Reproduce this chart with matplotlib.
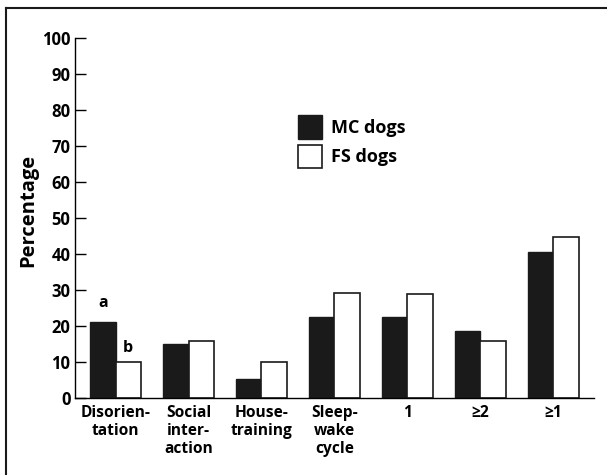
import matplotlib
matplotlib.use("Agg")
import matplotlib.pyplot as plt
import numpy as np
from matplotlib.lines import Line2D

categories = ["Disorien-\ntation", "Social\ninter-\naction", "House-\ntraining",
              "Sleep-\nwake\ncycle", "1", "≥2", "≥1"]
mc_dogs = [21.1, 15.1, 5.2, 22.5, 22.4, 18.7, 40.6]
fs_dogs = [10.0, 15.9, 10.0, 29.2, 28.9, 15.9, 44.7]
yticks = [0, 10, 20, 30, 40, 50, 60, 70, 80, 90, 100]

plt.rcParams['font.family'] = ['Open Sans', 'DejaVu Sans']

fig = plt.figure(figsize=(6.07, 4.75), dpi=100)
ax = fig.add_axes([0.123, 0.162, 0.856, 0.758])

x = np.arange(len(categories))
w = 0.35
ax.bar(x - w / 2, mc_dogs, w, color='#1a1a1a', edgecolor='#1a1a1a', linewidth=1.0, label='MC dogs')
ax.bar(x + w / 2, fs_dogs, w, color='white', edgecolor='#1a1a1a', linewidth=1.2, label='FS dogs')

ax.set_xlim(-0.56, 6.56)
ax.set_ylim(0, 100)
ax.set_yticks(yticks)
ax.set_yticklabels([str(t) for t in yticks], fontsize=12, fontweight='bold')
ax.set_xticks(x)
ax.set_xticklabels(categories, fontsize=11.2, fontweight='bold', linespacing=1.15, va='top')
ax.tick_params(axis='x', length=0, pad=5)
ax.tick_params(axis='y', direction='in', length=8, width=1, pad=3)
for s in ['top', 'right']:
    ax.spines[s].set_visible(False)
for s in ['left', 'bottom']:
    ax.spines[s].set_linewidth(1.0)
ax.set_ylabel('Percentage', fontsize=14.5, fontweight='bold')
ax.yaxis.set_label_coords(-0.07, 0.52)

ax.text(x[0] - w / 2, mc_dogs[0] + 3.0, 'a', ha='center', va='bottom', fontsize=11.5, fontweight='bold')
ax.text(x[0] + w / 2, fs_dogs[0] + 1.6, 'b', ha='center', va='bottom', fontsize=11.5, fontweight='bold')

leg = ax.legend(loc='upper left', bbox_to_anchor=(0.43, 0.785), frameon=False,
                prop={'size': 13, 'weight': 'bold'}, handlelength=1.3, handleheight=1.6,
                handletextpad=0.5, labelspacing=0.35, borderpad=0, borderaxespad=0)

# figure frame: top and left rules only
fig.add_artist(Line2D([0.010, 1.0], [0.983, 0.983], transform=fig.transFigure,
                      color='#1a1a1a', linewidth=1.5))
fig.add_artist(Line2D([0.010, 0.010], [0.0, 0.983], transform=fig.transFigure,
                      color='#1a1a1a', linewidth=1.5))

fig.savefig('out.png', dpi=100)
